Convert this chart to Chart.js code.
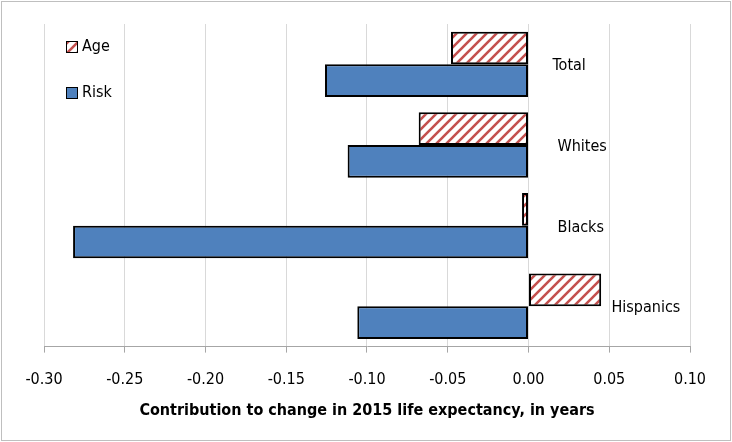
<!DOCTYPE html>
<html>
<head>
<meta charset="utf-8">
<script src="https://cdn.jsdelivr.net/npm/chart.js@4.4.0/dist/chart.umd.min.js"></script>
<style>
  body { margin: 0; background: #fff; }
  #wrap { width: 732px; height: 442px; position: relative; }
</style>
</head>
<body>
<div id="wrap"><canvas id="chart" width="732" height="442"></canvas></div>
<script>
const categories = ['Total', 'Whites', 'Blacks', 'Hispanics'];
const ageValues = [-0.048, -0.068, -0.004, 0.045];
const riskValues = [-0.126, -0.112, -0.282, -0.106];
const xTicks = [-0.30, -0.25, -0.20, -0.15, -0.10, -0.05, 0.00, 0.05, 0.10];
const axisTitle = 'Contribution to change in 2015 life expectancy, in years';

const FONT = "'Liberation Sans Narrow', 'DejaVu Sans Condensed', Lato, sans-serif";
const labelOffsets = [24, 29, 29, 83];

function hatchPattern() {
    const c = document.createElement('canvas');
    c.width = 10; c.height = 10;
    const g = c.getContext('2d');
    g.fillStyle = '#fff';
    g.fillRect(0, 0, 10, 10);
    g.strokeStyle = '#C4504E';
    g.lineWidth = 2.6;
    g.beginPath();
    g.moveTo(-2, 12); g.lineTo(12, -2);
    g.moveTo(-7, 7); g.lineTo(7, -7);
    g.moveTo(3, 17); g.lineTo(17, 3);
    g.stroke();
    return document.getElementById('chart').getContext('2d').createPattern(c, 'repeat');
}

const extras = {
    id: 'extras',
    afterDatasetsDraw(chart) {
        const ctx = chart.ctx;
        const x = chart.scales.x, y = chart.scales.y;
        ctx.save();
        ctx.font = '16px ' + FONT;
        ctx.fillStyle = '#000';
        ctx.textBaseline = 'middle';
        ctx.textAlign = 'left';
        categories.forEach((c, i) => {
            ctx.fillText(c, x.getPixelForValue(0) + labelOffsets[i], y.getPixelForValue(i) + 2);
        });
        // legend
        const items = chart.data.datasets;
        items.forEach((d, i) => {
            const ly = 47 + i * 46;
            ctx.fillStyle = d.backgroundColor;
            ctx.fillRect(66, ly - 6, 12, 12);
            ctx.strokeStyle = '#000';
            ctx.lineWidth = 1;
            ctx.strokeRect(66.5, ly - 5.5, 11, 11);
            ctx.fillStyle = '#000';
            ctx.fillText(d.label, 82, ly);
        });
        ctx.restore();
    },
    afterDraw(chart) {
        const ctx = chart.ctx;
        ctx.save();
        ctx.strokeStyle = '#bfbfbf';
        ctx.lineWidth = 1;
        ctx.strokeRect(1.5, 1.5, chart.width - 3, chart.height - 3);
        ctx.restore();
    }
};

new Chart(document.getElementById('chart'), {
    type: 'bar',
    data: {
        labels: categories,
        datasets: [{
            label: 'Age',
            data: ageValues,
            backgroundColor: hatchPattern(),
            borderColor: '#000',
            borderWidth: 2,
            borderSkipped: false
        }, {
            label: 'Risk',
            data: riskValues,
            backgroundColor: '#4F81BD',
            borderColor: '#000',
            borderWidth: 2,
            borderSkipped: false
        }]
    },
    options: {
        indexAxis: 'y',
        responsive: false,
        animation: false,
        layout: { padding: { left: 44, right: 42, top: 24, bottom: 22 } },
        datasets: { bar: { categoryPercentage: 0.81, barPercentage: 1.0 } },
        plugins: {
            legend: { display: false },
            tooltip: { enabled: false }
        },
        scales: {
            x: {
                min: -0.30,
                max: 0.10,
                afterBuildTicks: (axis) => { axis.ticks = xTicks.map(v => ({ value: v })); },
                ticks: {
                    callback: (v) => Number(v).toFixed(2),
                    color: '#000',
                    font: { family: FONT, size: 16 },
                    padding: 18
                },
                grid: { color: '#d9d9d9', lineWidth: 1, tickLength: 6, tickColor: '#a6a6a6' },
                border: { color: '#a6a6a6', width: 1 },
                title: {
                    display: true,
                    text: axisTitle,
                    color: '#000',
                    font: { family: FONT, size: 16, weight: 'bold' },
                    padding: { top: -7, bottom: 0 }
                }
            },
            y: {
                display: false,
                grid: { display: false }
            }
        }
    },
    plugins: [extras]
});
</script>
</body>
</html>
